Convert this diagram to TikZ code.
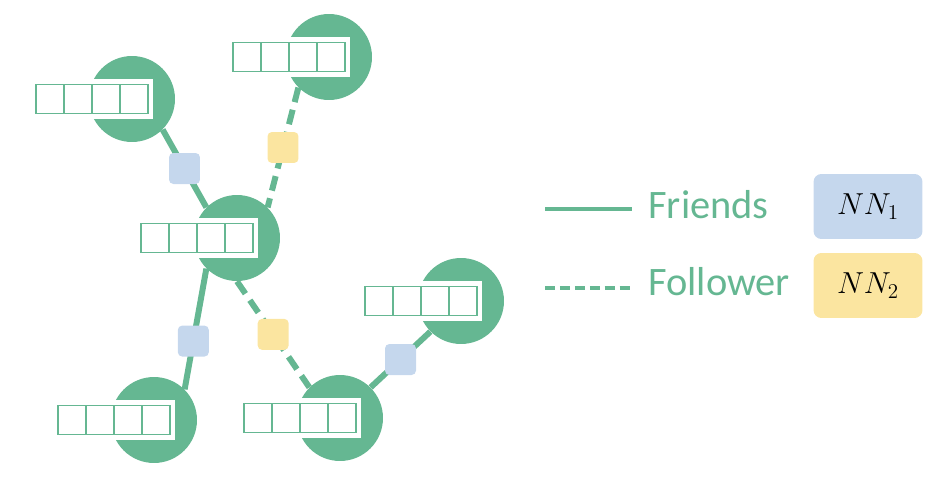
\documentclass[tikz,border=0pt]{standalone}
\usepackage{fontspec}
\newfontfamily\legfont{Carlito}
\usepackage{xcolor}
\usepackage{tikz}
\usetikzlibrary{positioning}

\definecolor{usergreen}{RGB}{101,183,146}
\definecolor{nnblue}{RGB}{197,215,237}
\definecolor{nnyellow}{RGB}{251,229,160}

\tikzset{
  user/.style={circle, fill=usergreen, minimum size=1.72cm, inner sep=0pt},
  pad/.style={rectangle, fill=white, minimum width=2.44cm, minimum height=0.8cm, inner sep=0pt},
  cell/.style={rectangle, draw=usergreen, line width=1.1pt, fill=white,
    minimum width=0.56cm, minimum height=0.58cm, inner sep=0pt, outer sep=0pt},
  friend/.style={draw=usergreen, line width=3.4pt},
  follow/.style={draw=usergreen, line width=3.4pt, dash pattern=on 8.5pt off 4.5pt},
  nnone/.style={rectangle, fill=nnblue, rounded corners=2.5pt, minimum size=0.62cm, inner sep=0pt},
  nntwo/.style={rectangle, fill=nnyellow, rounded corners=2.5pt, minimum size=0.62cm, inner sep=0pt},
  legend/.style={text=usergreen, font=\legfont\fontsize{23}{26}\selectfont, inner sep=0pt},
  nnkey/.style={rectangle, rounded corners=4.5pt, minimum width=2.18cm, minimum height=1.3cm,
    font=\fontsize{16.6}{20}\selectfont}
}

\begin{document}
\begin{tikzpicture}[x=0.02cm, y=-0.02cm]
        \useasboundingbox (0,0) rectangle (944,494);

        % users with their feature vectors
        \foreach \n/\x/\y in {a/132/99, b/329/57, c/237/238, d/154/420, e/340/418, f/461/301} {
            \node[user] (\n) at (\x,\y) {};
            \node[pad] (\n-pad) at ([xshift=-0.8cm]\n.center) {};
            \foreach \k in {1,...,4}
                \node[cell] (\n-\k) at ([xshift={(\k-4)*0.56cm+0.04cm}]\n.center) {};
        }

        \draw[friend] (a.south east) -- node[nnone] {} (c.north west);
        \draw[follow] (b.south west) -- node[nntwo] {} (c.north east);
        \draw[friend] (c.south west) -- node[nnone, pos=0.6] {} (d.north east);
        \draw[follow] (c.south) -- node[nntwo] {} (e.north west);
        \draw[friend] (f.south west) -- node[nnone] {} (e.north east);

        % legend
        \coordinate (fr0) at (545,209);
        \coordinate (fr1) at (632,209);
        \coordinate (fo0) at (545,288);
        \coordinate (fo1) at (632,288);
        \draw[friend, line width=2.2pt] (fr0) -- (fr1);
        \draw[follow, line width=2.2pt, dash pattern=on 5.7pt off 2.8pt] (fo0) -- (fo1);
        \node[legend, anchor=base west] (friends) at (648,218) {Friends};
        \node[legend, anchor=base west] (follower) at (648,295) {Follower};
        \node[nnkey, fill=nnblue] (nn1) at (868,206.5) {$NN_1$};
        \node[nnkey, fill=nnyellow] (nn2) at (868,285.5) {$NN_2$};
\end{tikzpicture}
\end{document}
